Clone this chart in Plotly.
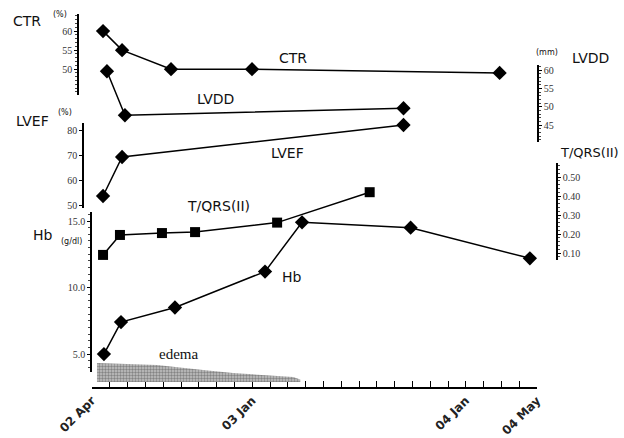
import plotly.graph_objects as go

# ---------------- data (x in months since Apr 2002) ----------------
month_tick_pos = [0, 9, 21, 25]
month_tick_text = ["02 Apr", "03 Jan", "04 Jan", "04 May"]

ctr_months = [0.62, 1.69, 4.44, 8.99, 22.9]
ctr_values = [60.0, 55.0, 50.0, 50.0, 49.0]

lvdd_months = [0.84, 1.85, 17.5]
lvdd_values = [59.7, 47.7, 49.6]

lvef_months = [0.62, 1.69, 17.5]
lvef_values = [53.6, 69.2, 82.0]

tqrs_months = [0.62, 1.57, 3.93, 5.79, 10.4, 15.6]
tqrs_values = [0.09, 0.195, 0.205, 0.21, 0.26, 0.42]

hb_months = [0.67, 1.63, 4.66, 9.72, 11.8, 17.9, 24.6]
hb_values = [5.0, 7.4, 8.5, 11.2, 14.9, 14.5, 12.2]

edema_months = [0.28, 3.65, 6.24, 7.92, 11.3, 11.7]
edema_level = [0.95, 0.85, 0.6, 0.45, 0.25, 0.12]

# ---------------- layout helpers ----------------
L, R, T, B = 78, 66, 14, 50
W, H = 624, 438
PW, PH = W - L - R, H - T - B


def px(x):
    return (x - L) / PW


def py(y):
    return (H - B - y) / PH


line = dict(color="black", width=1.5)
fig = go.Figure()

fig.add_trace(go.Scatter(x=edema_months, y=edema_level, xaxis="x", yaxis="y6",
                         mode="lines", line=dict(width=0), fill="tozeroy",
                         fillcolor="#a8a8a8",
                         fillpattern=dict(shape=".", fgcolor="#444444", bgcolor="#c4c4c4",
                                          size=3, solidity=0.5),
                         hoverinfo="skip"))
fig.add_trace(go.Scatter(x=ctr_months, y=ctr_values, yaxis="y", mode="lines+markers",
                         line=line, marker=dict(symbol="diamond", size=11, color="black"),
                         cliponaxis=False))
fig.add_trace(go.Scatter(x=lvdd_months, y=lvdd_values, yaxis="y2", mode="lines+markers",
                         line=line, marker=dict(symbol="diamond", size=11, color="black"),
                         cliponaxis=False))
fig.add_trace(go.Scatter(x=lvef_months, y=lvef_values, yaxis="y3", mode="lines+markers",
                         line=line, marker=dict(symbol="diamond", size=11, color="black"),
                         cliponaxis=False))
fig.add_trace(go.Scatter(x=tqrs_months, y=tqrs_values, yaxis="y4", mode="lines+markers",
                         line=line, marker=dict(symbol="square", size=10, color="black"),
                         cliponaxis=False))
fig.add_trace(go.Scatter(x=hb_months, y=hb_values, yaxis="y5", mode="lines+markers",
                         line=line, marker=dict(symbol="diamond", size=11, color="black"),
                         cliponaxis=False))

tickfont = dict(family="Liberation Serif", size=10, color="#333333")
common_y = dict(showline=True, linecolor="black", linewidth=1.5, showgrid=False,
                zeroline=False, ticks="outside", ticklen=3, tickcolor="black",
                tickfont=tickfont, fixedrange=True, automargin=False)

fig.update_layout(
    width=W, height=H, showlegend=False,
    margin=dict(l=L, r=R, t=T, b=B, autoexpand=False),
    paper_bgcolor="white", plot_bgcolor="rgba(0,0,0,0)",
    xaxis=dict(domain=[px(92), px(537)], range=[0, 25], anchor="free", position=0,
               automargin=False, fixedrange=True,
               showline=True, linecolor="black", linewidth=1.5, showgrid=False,
               zeroline=False, tickvals=month_tick_pos, ticktext=month_tick_text,
               tickangle=-45, ticks="inside", ticklen=6, tickcolor="black",
               tickfont=dict(family="DejaVu Sans", size=12, color="#222222", weight="bold"),
               minor=dict(ticks="inside", ticklen=6, dtick=1, tick0=0, tickcolor="black")),
    yaxis=dict(domain=[py(95), py(14)], range=[43.2, 64.5], anchor="free", position=0,
               side="left", tickvals=[50, 55, 60],
               minor=dict(ticks="outside", ticklen=2, dtick=1, tickcolor="#444"), **common_y),
    yaxis2=dict(domain=[py(142), py(65)], range=[40.4, 61.4], anchor="x", side="right",
                tickvals=[45, 50, 55, 60],
                minor=dict(ticks="outside", ticklen=2, dtick=1, tickcolor="#444"), **common_y),
    yaxis3=dict(domain=[py(208), py(123)], range=[48.8, 82.8], anchor="free",
                position=px(83), side="left", tickvals=[50, 60, 70, 80], **common_y),
    yaxis4=dict(domain=[py(260), py(163)], range=[0.0632, 0.5737], anchor="free",
                position=px(557), side="right", tickvals=[0.1, 0.2, 0.3, 0.4, 0.5],
                ticktext=["0.10", "0.20", "0.30", "0.40", "0.50"],
                minor=dict(ticks="outside", ticklen=2, dtick=0.02, tickcolor="#444"), **common_y),
    yaxis5=dict(domain=[py(372), py(212)], range=[3.65, 15.68], anchor="x", side="left",
                tickvals=[5, 10, 15], ticktext=["5.0", "10.0", "15.0"],
                minor=dict(ticks="outside", ticklen=2, dtick=0.5, tickcolor="#444"), **common_y),
    yaxis6=dict(domain=[py(382), py(362)], range=[0, 1], anchor="x", visible=False,
                automargin=False, fixedrange=True),
)

sans = "DejaVu Sans"


def note(text, x, y, size=14, family=sans, xanchor="center"):
    fig.add_annotation(text=text, x=px(x), y=py(y), xref="paper", yref="paper",
                       showarrow=False, xanchor=xanchor, yanchor="middle",
                       font=dict(family=family, size=size, color="#111111"))


# axis titles
note("CTR", 27, 21, 14)
note("(%)", 60, 14, 8)
note("LVEF", 32, 121, 14)
note("(%)", 65, 112, 8)
note("Hb", 43, 235, 14)
note("(g/dl)", 71, 241, 8)
note("(mm)", 547, 53, 8)
note("LVDD", 590, 58, 14)
note("T/QRS(II)", 621, 152, 13, xanchor="right")

# in-plot labels
note("CTR", 293, 58, 14)
note("LVDD", 215, 99, 14)
note("LVEF", 287, 153, 14)
note("T/QRS(II)", 218, 206, 14)
note("Hb", 292, 277, 14)
note("edema", 178, 354, 15, family="Liberation Serif")

fig.write_html("out.html", config={"displayModeBar": False},
               post_script="document.body.style.margin='0';document.body.style.overflow='hidden';")
